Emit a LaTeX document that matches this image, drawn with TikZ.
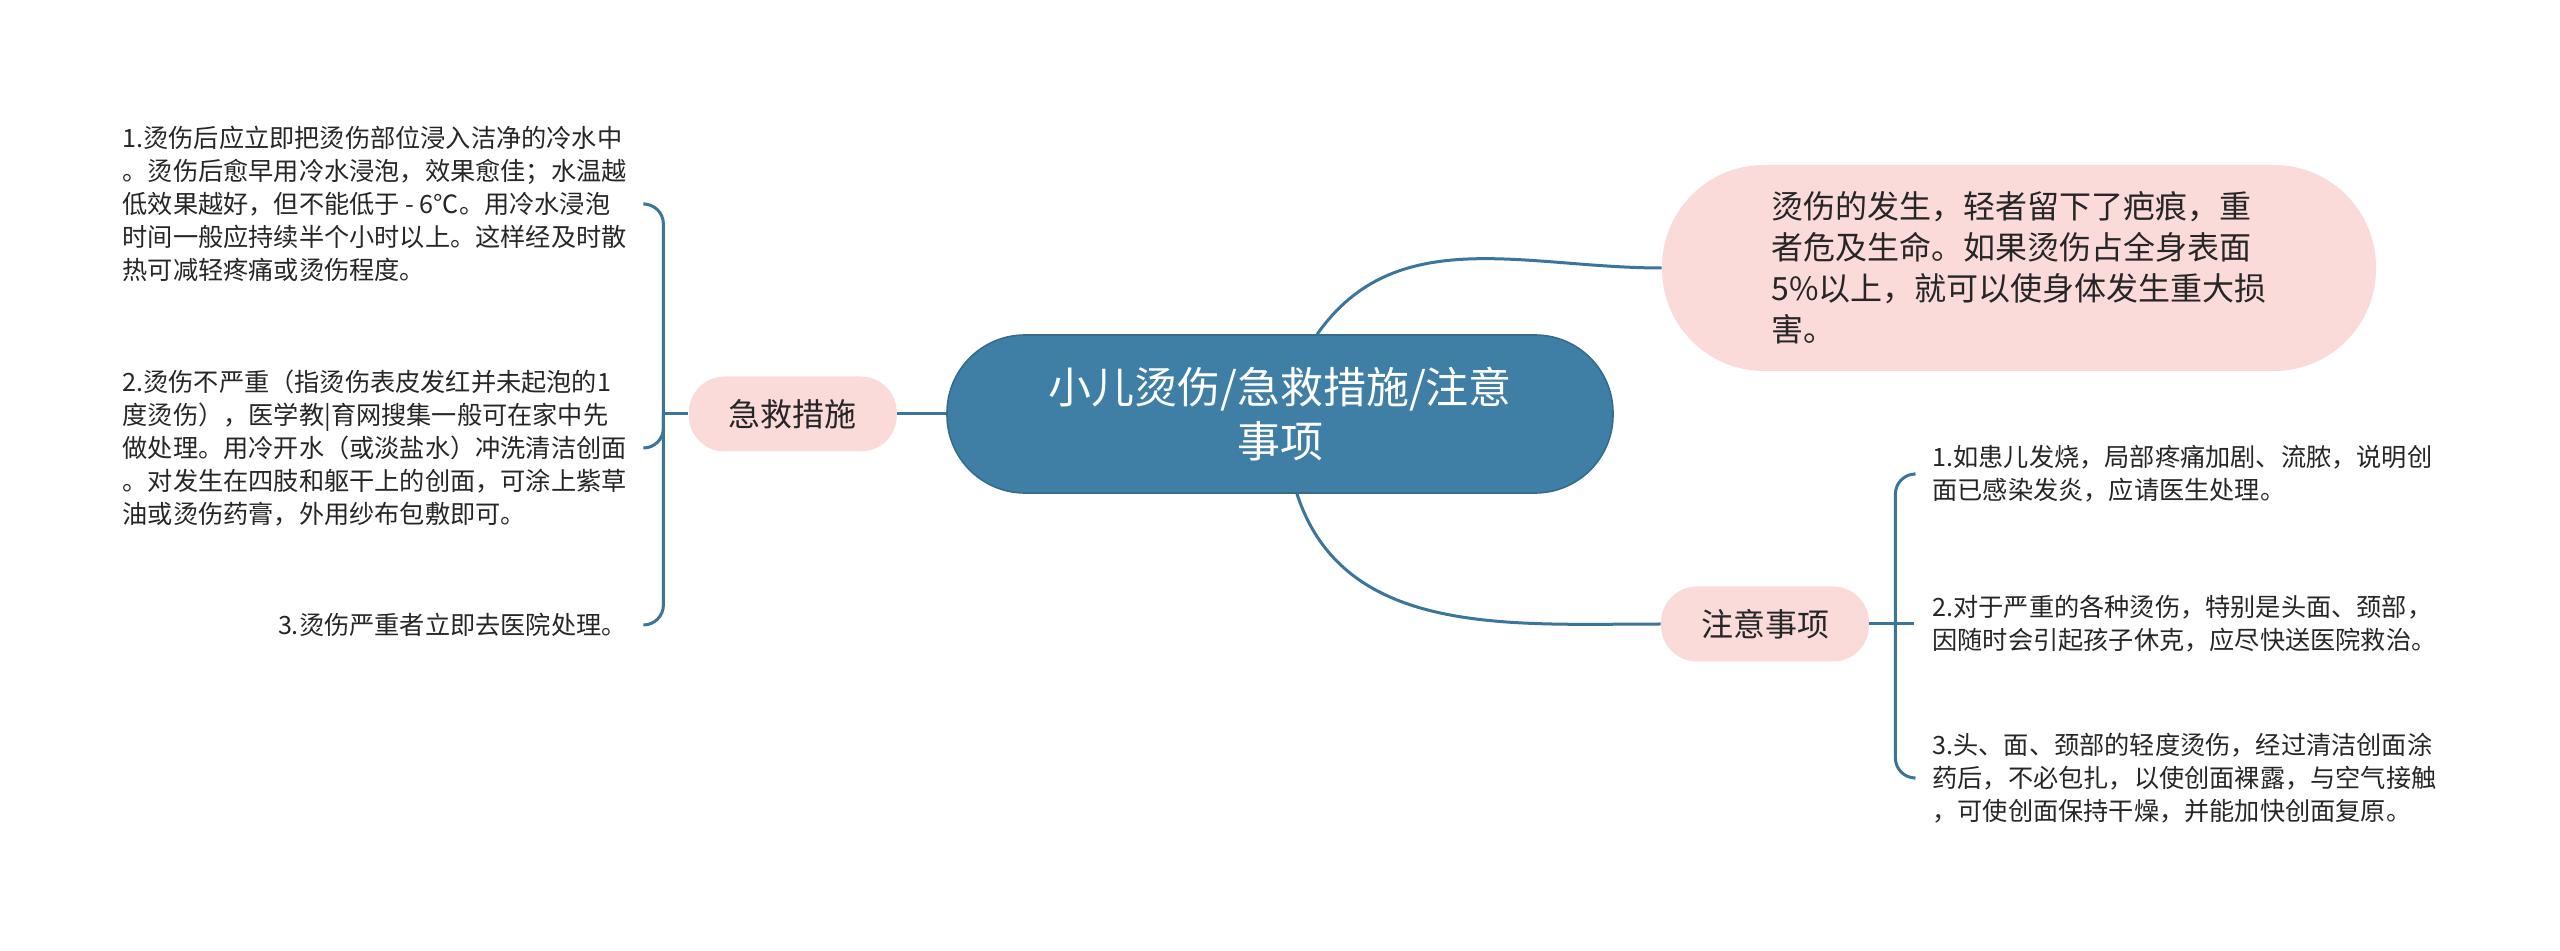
\documentclass[tikz,border=0pt]{standalone}
\usepackage{fontspec}
\setmainfont{Noto Sans CJK SC}
\usepackage{xcolor}
\usetikzlibrary{positioning}

\definecolor{mapblue}{HTML}{3F7EA5}
\definecolor{mapline}{HTML}{3B759B}
\definecolor{mappink}{HTML}{FBDADA}
\definecolor{maptext}{HTML}{262626}

\begin{document}
\begin{tikzpicture}[
  x=0.5pt, y=-0.5pt,
  node distance=24.5pt,
  topic/.style={fill=mapblue, draw=mapblue!85!black, line width=0.8pt, rounded corners=39pt, minimum width=333pt, minimum height=79pt, align=center, text=white, font=\fontsize{21.5}{27}\selectfont},
  note/.style={fill=mappink, rounded corners=51pt, minimum width=357pt, minimum height=103pt, align=left, text=maptext, font=\fontsize{16}{20.5}\selectfont},
  branch/.style={fill=mappink, rounded corners=18pt, minimum width=104pt, minimum height=37.5pt, text=maptext, font=\fontsize{16}{20}\selectfont},
  leaf/.style={align=left, inner xsep=9pt, inner ysep=2pt, text=maptext, font=\fontsize{12.6}{16.5}\selectfont},
  link/.style={draw=mapline, line width=1.5pt, rounded corners=10pt}
]
\useasboundingbox (0,0) rectangle (2560,951);

\node[topic] (burn) at (1280,414) {小儿烫伤/急救措施/注意\\事项};
\node[branch, left=of burn] (aid) {急救措施};
\node[note] (harm) at (2019,268) {烫伤的发生，轻者留下了疤痕，重\\者危及生命。如果烫伤占全身表面\\5\%以上，就可以使身体发生重大损\\害。};
\node[branch] (care) at (1765,624) {注意事项};

\coordinate[left=12.5pt of aid.west] (aidfork);
\coordinate[right=13pt of care.east] (carefork);

% first aid
\node[leaf, anchor=east] (aid1) at (645,204) {1.烫伤后应立即把烫伤部位浸入洁净的冷水中\\。烫伤后愈早用冷水浸泡，效果愈佳；水温越\\低效果越好，但不能低于 - 6℃。用冷水浸泡\\时间一般应持续半个小时以上。这样经及时散\\热可减轻疼痛或烫伤程度。};
\node[leaf, anchor=east] (aid2) at (645,448) {2.烫伤不严重（指烫伤表皮发红并未起泡的1\\度烫伤），医学教|育网搜集一般可在家中先\\做处理。用冷开水（或淡盐水）冲洗清洁创面\\。对发生在四肢和躯干上的创面，可涂上紫草\\油或烫伤药膏，外用纱布包敷即可。};
\node[leaf, anchor=east] (aid3) at (645,625) {3.烫伤严重者立即去医院处理。};

% notes
\node[leaf, anchor=west] (care1) at (1914,474) {1.如患儿发烧，局部疼痛加剧、流脓，说明创\\面已感染发炎，应请医生处理。};
\node[leaf, anchor=west] (care2) at (1914,624) {2.对于严重的各种烫伤，特别是头面、颈部，\\因随时会引起孩子休克，应尽快送医院救治。};
\node[leaf, anchor=west] (care3) at (1914,778) {3.头、面、颈部的轻度烫伤，经过清洁创面涂\\药后，不必包扎，以使创面裸露，与空气接触\\，可使创面保持干燥，并能加快创面复原。};

\draw[link] (burn.west) -- (aid.east);
\draw[link] (burn.65) to[out=55, in=180] (harm.west);
\draw[link] (burn.-78) to[out=-72, in=180] (care.west);

\draw[link] (aid.west) -- (aidfork);
\draw[link] (aidfork) |- (aid1.east);
\draw[link] (aidfork) |- (aid2.east);
\draw[link] (aidfork) |- (aid3.east);

\draw[link] (care.east) -- (carefork);
\draw[link] (carefork) |- (care1.west);
\draw[link] (carefork) -- (care2.west);
\draw[link] (carefork) |- (care3.west);
\end{tikzpicture}
\end{document}
